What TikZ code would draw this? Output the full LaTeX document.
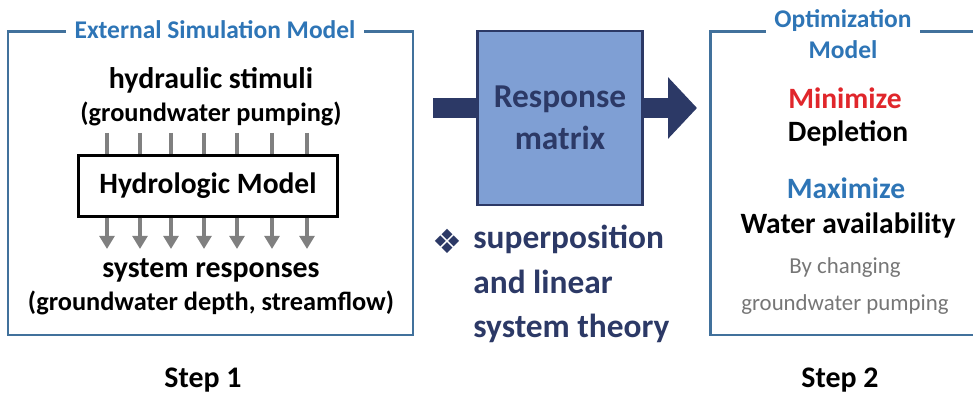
\documentclass[tikz,border=0pt]{standalone}
\usepackage{fontspec}
\setmainfont{Carlito}
\newfontfamily\symfont{DejaVu Sans}
\usepackage{tikz}
\usetikzlibrary{positioning,arrows.meta,calc}
\definecolor{framecol}{RGB}{65,113,156}
\definecolor{titlecol}{RGB}{46,117,182}
\definecolor{navy}{RGB}{44,57,102}
\definecolor{matfill}{RGB}{127,159,212}
\definecolor{tickgray}{RGB}{128,128,128}
\definecolor{minred}{RGB}{224,38,43}
\definecolor{bygray}{RGB}{118,118,118}

\begin{document}
\begin{tikzpicture}[
  x=0.02cm, y=-0.02cm,
  every node/.style={font=\bfseries, inner sep=0pt},
  frame/.style={draw=framecol, line width=1.7pt},
  title/.style={fill=white, text=titlecol, inner xsep=5pt, inner ysep=2pt,
                font=\bfseries\fontsize{14.5}{18}\selectfont},
  txt/.style={font=\bfseries\fontsize{15}{18}\selectfont},
  headtxt/.style={font=\bfseries\fontsize{17}{20}\selectfont},
  bigtxt/.style={font=\bfseries\fontsize{16.8}{19}\selectfont},
  tick/.style={draw=tickgray, line width=2.2pt},
  thinarrow/.style={tick, -{Triangle[length=7.5pt,width=8.5pt]}},
  matrixbox/.style={draw=navy, fill=matfill, line width=1.2pt, text=navy, align=center,
                    font=\bfseries\fontsize{19}{22}\selectfont},
  bigarrow/.style={draw=navy, line width=0.4cm, -{Triangle[length=0.58cm,width=1.2cm]}},
  steptxt/.style={font=\bfseries\fontsize{17}{20}\selectfont}
]
\useasboundingbox (0,0) rectangle (973,394);

% step 1: external simulation model
\draw[frame] (8,32) rectangle (413,335);
\node[title] (simtitle) at (215,30) {External Simulation Model};
\node[headtxt] (stim) at (211,80) {hydraulic stimuli};
\node[txt] (pump) at (211,114) {(groundwater pumping)};
\node[bigtxt, draw=black, line width=1.2pt, minimum width=259*0.02cm, minimum height=61*0.02cm] (hm) at (208,186) {Hydrologic Model};
\foreach \x in {107,140,171,204,237,272,307} {
  \draw[tick] (\x,133) -- (\x,0 |- hm.north);
  \draw[thinarrow] (\x,0 |- hm.south) -- (\x,249);
}
\node[headtxt] (resp) at (211,270) {system responses};
\node[txt] (depth) at (211,303) {(groundwater depth, streamflow)};
\node[steptxt] (step1) at (203,380) {Step 1};

% response matrix
\coordinate (arrin) at (433,108);
\coordinate (arrout) at (697,108);
\draw[bigarrow] (arrin) -- (arrout);
\node[matrixbox, minimum width=165*0.02cm, minimum height=174*0.02cm] (rm) at (560,118) {Response\\[2pt]matrix};
\node[anchor=north west, text=navy, align=left, font=\bfseries\fontsize{19}{25.2}\selectfont] (theory) at (473,225)
  {superposition\\and linear\\system theory};
\node[text=navy, font=\symfont\fontsize{19}{20}\selectfont] (bullet) at (447,241) {❖};

% step 2: optimization model
\draw[frame] (710,32) rectangle (990,335);
\node[title, align=center, inner ysep=1pt] (opttitle) at (843,34) {Optimization\\Model};
\node[bigtxt, text=minred] (minw) at (845,98) {Minimize};
\node[bigtxt] (depl) at (848,133) {Depletion};
\node[bigtxt, text=titlecol] (maxw) at (846,188) {Maximize};
\node[bigtxt] (avail) at (848,225) {Water availability};
\node[align=center, text=bygray, font=\fontsize{13}{21.5}\selectfont] (bychg) at (845,286) {By changing\\groundwater pumping};
\node[steptxt] (step2) at (840,380) {Step 2};
\end{tikzpicture}
\end{document}
